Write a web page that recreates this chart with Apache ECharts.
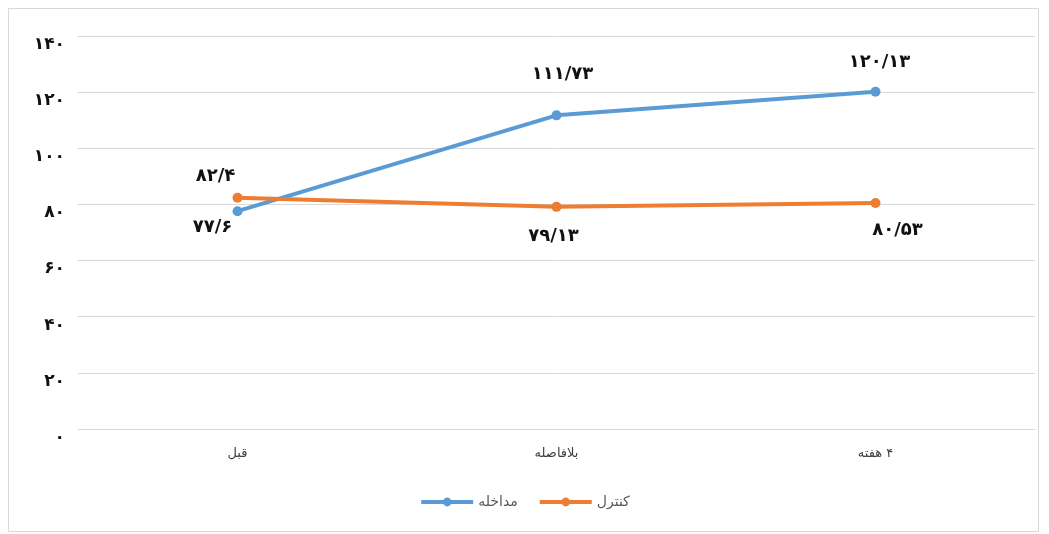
<!DOCTYPE html>
<html>
<head>
<meta charset="utf-8">
<script src="https://cdn.jsdelivr.net/npm/echarts@6/dist/echarts.min.js"></script>
<style>
    html, body { margin: 0; padding: 0; background: #fff; }
    #frame { position: absolute; left: 8px; top: 8px; width: 1031px; height: 524px; border: 1px solid #d9d9d9; box-sizing: border-box; }
    #chart { position: absolute; left: 0; top: 0; width: 1049px; height: 534px; }
</style>
</head>
<body>
<div id="frame"></div>
<div id="chart" dir="rtl"></div>
<script>
const categories = ['قبل', 'بلافاصله', '۴ هفته'];
const interventionName = 'مداخله';
const controlName = 'کنترل';
const interventionValues = [77.6, 111.73, 120.13];
const controlValues = [82.4, 79.13, 80.53];
const yTicks = [0, 20, 40, 60, 80, 100, 120, 140];

// persian digits, "/" as decimal mark
function fa(v) {
    return String(v).replace('.', '/').replace(/[0-9]/g, d => '۰۱۲۳۴۵۶۷۸۹'[d]);
}

// label placement per point (style only)
const blueLabels = [
    {position: 'bottom', offset: [-25, -3]},
    {position: 'top', offset: [6, -22]},
    {position: 'top', offset: [4, -10]}
];
const orangeLabels = [
    {position: 'top', offset: [-22, -2]},
    {position: 'bottom', offset: [-3, 10]},
    {position: 'bottom', offset: [22, 8]}
];

const labelFont = {fontSize: 18, fontWeight: 'bold', color: '#111', fontFamily: 'DejaVu Sans'};

function buildData(values, labels) {
    return values.map((v, i) => ({
        value: v,
        label: Object.assign({show: true, formatter: p => fa(p.value)}, labelFont, labels[i])
    }));
}

const chart = echarts.init(document.getElementById('chart'));
chart.setOption({
    animation: false,
    color: ['#5B9BD5', '#ED7D31'],
    grid: {left: 78, right: 14, top: 36, bottom: 105},
    legend: {
        data: [interventionName, controlName],
        bottom: 20,
        left: 'center',
        itemWidth: 52,
        itemHeight: 11,
        itemGap: 20,
        lineStyle: {width: 4},
        textStyle: {fontSize: 14, color: '#595959', fontFamily: 'DejaVu Sans'}
    },
    xAxis: {
        type: 'category',
        data: categories,
        axisLine: {lineStyle: {color: '#d9d9d9'}},
        axisTick: {show: false},
        axisLabel: {fontSize: 13, color: '#404040', margin: 18, fontFamily: 'DejaVu Sans'}
    },
    yAxis: {
        type: 'value',
        min: 0,
        max: 140,
        interval: 20,
        axisLine: {show: false},
        axisTick: {show: false},
        splitLine: {lineStyle: {color: '#d9d9d9'}},
        axisLabel: {
            fontSize: 17, fontWeight: 'bold', color: '#111', margin: 13,
            fontFamily: 'DejaVu Sans', verticalAlign: 'top',
            formatter: v => yTicks.includes(v) ? fa(v) : ''
        }
    },
    series: [
        {
            name: interventionName,
            type: 'line',
            data: buildData(interventionValues, blueLabels),
            symbol: 'circle',
            symbolSize: 10,
            lineStyle: {width: 4}
        },
        {
            name: controlName,
            type: 'line',
            data: buildData(controlValues, orangeLabels),
            symbol: 'circle',
            symbolSize: 10,
            lineStyle: {width: 4}
        }
    ]
});
</script>
</body>
</html>
